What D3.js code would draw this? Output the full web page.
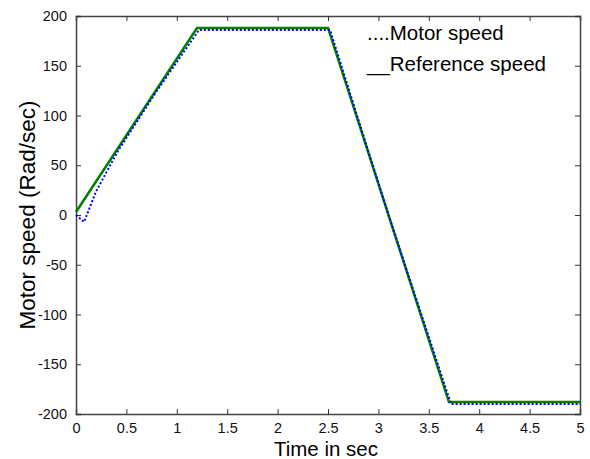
<!DOCTYPE html>
<html>
<head>
<meta charset="utf-8">
<script src="https://cdn.jsdelivr.net/npm/d3@7"></script>
<style>
	body { margin: 0; background: #fff; }
	text { font-family: "Liberation Sans", Arial, sans-serif; }
</style>
</head>
<body>
<div class="js-graph"></div>
<script>
// values
var refTime = [0, 1.2, 2.5, 3.7, 5],
	refSpeed = [3, 188, 188, -188, -188],
	motorTime = [0, 0.08, 0.2, 0.42, 0.8, 1.22, 2.52, 3.1, 3.72, 5],
	motorSpeed = [0, -7, 24, 65, 124.5, 186, 186, 0, -190, -190],
	xTicks = [0, 0.5, 1, 1.5, 2, 2.5, 3, 3.5, 4, 4.5, 5],
	yTicks = [-200, -150, -100, -50, 0, 50, 100, 150, 200],
	legendLabels = ['....Motor speed', '__Reference speed'];

(function(d3) {
	var w = 590, h = 459,
		left = 76, right = 580, top = 16, bottom = 414;

	var svg = d3.select('.js-graph').append('svg')
		.attr('width', w).attr('height', h);

	var x = d3.scaleLinear().domain([0, 5]).range([left, right]),
		y = d3.scaleLinear().domain([-200, 200]).range([bottom, top]);

	var ref = refTime.map(function(t, i) { return { t: t, v: refSpeed[i] }; }),
		motor = motorTime.map(function(t, i) { return { t: t, v: motorSpeed[i] }; });

	var line = d3.line()
		.x(function(d) { return x(d.t); })
		.y(function(d) { return y(d.v); });

	// axes, MATLAB style ticks pointing inward
	var tickFmt = function(d) { return d; };
	svg.append('g').attr('transform', 'translate(0,' + bottom + ')')
		.call(d3.axisBottom(x).tickValues(xTicks).tickSize(-5).tickPadding(9).tickFormat(tickFmt));
	svg.append('g').attr('transform', 'translate(0,' + top + ')')
		.call(d3.axisTop(x).tickValues(xTicks).tickSize(-5).tickFormat(''));
	svg.append('g').attr('transform', 'translate(' + left + ',0)')
		.call(d3.axisLeft(y).tickValues(yTicks).tickSize(-5).tickPadding(9).tickFormat(tickFmt));
	svg.append('g').attr('transform', 'translate(' + right + ',0)')
		.call(d3.axisRight(y).tickValues(yTicks).tickSize(-5).tickFormat(''));

	svg.selectAll('.domain').attr('stroke', '#444').attr('stroke-width', 1.5);
	svg.selectAll('.tick line').attr('stroke', '#333');
	svg.selectAll('.tick text')
		.attr('font-size', '14.5px')
		.attr('fill', '#111')
		.attr('font-family', '"Liberation Sans", Arial, sans-serif');

	svg.append('path')
		.datum(ref)
		.attr('d', line)
		.attr('fill', 'none')
		.attr('stroke', '#008000')
		.attr('stroke-width', 2.5);

	svg.append('path')
		.datum(motor)
		.attr('d', line)
		.attr('fill', 'none')
		.attr('stroke', '#0000ff')
		.attr('stroke-width', 2)
		.attr('stroke-dasharray', '2,2');

	// legend as plain text
	svg.selectAll('text.legend')
		.data(legendLabels)
		.enter()
		.append('text')
		.attr('class', 'legend')
		.attr('x', 367)
		.attr('y', function(d, i) { return 40 + i * 31; })
		.attr('font-size', '20.5px')
		.attr('fill', '#000')
		.text(function(d) { return d; });

	svg.append('text')
		.attr('x', (left + right) / 2 - 2)
		.attr('y', 456)
		.attr('text-anchor', 'middle')
		.attr('font-size', '20.5px')
		.text('Time in sec');

	svg.append('text')
		.attr('transform', 'translate(35,' + ((top + bottom) / 2) + ') rotate(-90)')
		.attr('text-anchor', 'middle')
		.attr('font-size', '22.5px')
		.text('Motor speed (Rad/sec)');
})(d3);
</script>
</body>
</html>
